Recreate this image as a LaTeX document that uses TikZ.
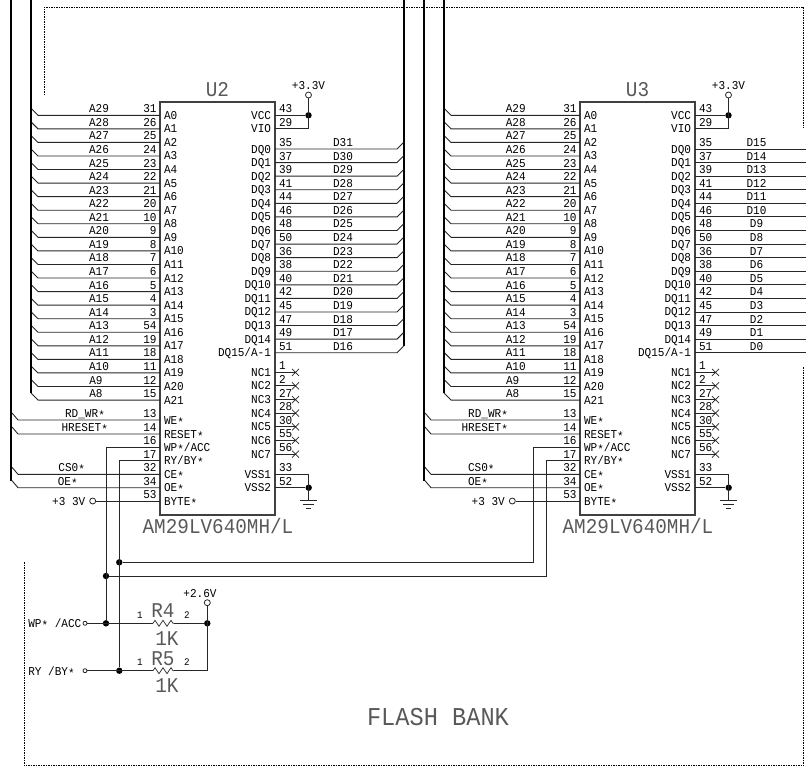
\documentclass[tikz,border=0pt]{standalone}
\usepackage{fontspec}
\newfontfamily\cad[FakeStretch=0.92]{Liberation Mono}
\newcommand\st{\raisebox{-2pt}{*}}
\tikzset{
  txt/.style={font=\cad\fontsize{12}{12}\selectfont,inner sep=0pt,outer sep=0pt,text height=8pt,text depth=0pt},
  tiny/.style={font=\cad\fontsize{10}{10}\selectfont,inner sep=0pt,outer sep=0pt,text height=7pt,text depth=0pt},
  bigtxt/.style={font=\cad\fontsize{21}{21}\selectfont,text=black!65,inner sep=0pt,outer sep=0pt,text height=14pt,text depth=0pt},
  hugetxt/.style={font=\cad\fontsize{25.7}{26}\selectfont,text=black!65,inner sep=0pt,outer sep=0pt,text height=16pt,text depth=0pt},
  wire/.style={line width=.9pt,black!85},
  bus/.style={line width=2.6pt,black},
  frame/.style={line width=.8pt,black,dash pattern=on 1.5pt off 1pt},
  chipbox/.style={draw=black!75,line width=1.1pt,inner sep=0pt,minimum width=115pt,minimum height=413pt},
  jdot/.style={circle,fill=black,inner sep=0pt,minimum size=6.4pt},
  opnc/.style={circle,draw=black!85,fill=white,line width=.8pt,inner sep=0pt,minimum size=6pt},
  termc/.style={circle,draw=black!85,fill=white,line width=.8pt,inner sep=0pt,minimum size=4pt},
}
% id, chip x offset, address bus x, control bus x, A-label centre x, refdes
\newcommand\flashchip[6]{
  \node[chipbox] (#1) at (#2+217.5,308.5) {};
  \node[bigtxt] (#1-ref) at (#2+217.5,89) {#6};
  \node[bigtxt] (#1-type) at (#2+218,526.5) {AM29LV640MH/L};
  % address pins
  \foreach \num [count=\k from 0] in {31,26,25,24,23,22,21,20,10,9,8,7,6,5,4,3,54,19,18,11,12,15}{
    \pgfmathsetmacro\yy{115.3+13.56*\k}
    \pgfmathtruncatemacro\sig{29-\k}
    \pgfmathsetmacro\lx{#5-(\k>=20)*3}
    \coordinate (#1-a\k) at (#2+160,\yy);
    \coordinate (#1-as\k) at (#3+7,\yy);
    \coordinate (#1-ab\k) at (#3,\yy-7);
    \draw[wire] (#1-a\k) -- (#1-as\k) -- (#1-ab\k);
    \node[txt,anchor=east] (#1-an\k) at (#2+156.5,\yy-6.5) {\num};
    \node[txt,anchor=west] (#1-ap\k) at (#2+164,\yy) {A\k};
    \node[txt] (#1-al\k) at (\lx,\yy-6.5) {A\sig};
  }
  % control pin labels
  \foreach \tag/\nm/\num/\yy in {we/WE\st/13/420,rs/RESET\st/14/434,wp/WP\st{}\slash ACC/16/447.3,ry/RY\slash BY\st/17/460.7,ce/CE\st/32/474.3,oe/OE\st/34/487.7,by/BYTE\st/53/501}{
    \coordinate (#1-\tag) at (#2+160,\yy);
    \node[txt,anchor=west] (#1-\tag p) at (#2+164,\yy) {\nm};
    \node[txt,anchor=east] (#1-\tag n) at (#2+156.5,\yy-6.5) {\num};
  }
  % control wires to the bus
  \foreach \tag/\yy in {we/420,rs/434,ce/474.3,oe/487.7}{
    \coordinate (#1-\tag s) at (#4+7,\yy);
    \coordinate (#1-\tag b) at (#4+1,\yy-7);
    \draw[wire] (#1-\tag) -- (#1-\tag s) -- (#1-\tag b);
  }
  % buses
  \coordinate (#1-abt) at (#3,0);
  \coordinate (#1-abe) at (#3,392.5);
  \coordinate (#1-cbt) at (#4,0);
  \coordinate (#1-cbe) at (#4,481);
  \draw[bus] (#1-abt) -- (#1-abe);
  \draw[bus] (#1-cbt) -- (#1-cbe);
  % power
  \node[opnc] (#1-vo) at (#2+308.5,95) {};
  \node[txt] (#1-vl) at (#2+308.5,85) {+3.3V};
  \node[jdot] (#1-vj) at (#2+308.5,115.3) {};
  \coordinate (#1-vcc) at (#2+275,115.3);
  \coordinate (#1-vio) at (#2+275,128.9);
  \coordinate (#1-vc) at (#2+308.5,128.9);
  \draw[wire] (#1-vo) -- (#1-vc) -- (#1-vio);
  \draw[wire] (#1-vcc) -- (#1-vj);
  \node[txt,anchor=east] (#1-vccp) at (#2+271,115.3) {VCC};
  \node[txt,anchor=east] (#1-viop) at (#2+271,128.9) {VIO};
  \node[txt,anchor=west] (#1-vccn) at (#2+279,108.8) {43};
  \node[txt,anchor=west] (#1-vion) at (#2+279,122.4) {29};
  % data pin labels
  \foreach \num [count=\k from 0] in {35,37,39,41,44,46,48,50,36,38,40,42,45,47,49,51}{
    \pgfmathsetmacro\yy{149+13.58*\k}
    \coordinate (#1-d\k) at (#2+275,\yy);
    \node[txt,anchor=west] (#1-dn\k) at (#2+279,\yy-6.5) {\num};
    \ifnum\k<15
      \node[txt,anchor=east] (#1-dp\k) at (#2+271,\yy) {DQ\k};
    \else
      \node[txt,anchor=east] (#1-dp\k) at (#2+271,\yy) {DQ15\slash A-1};
    \fi
  }
  % no-connect pins
  \foreach \num [count=\k from 1] in {1,2,27,28,30,55,56}{
    \pgfmathsetmacro\yy{372.3+13.63*(\k-1)}
    \coordinate (#1-nc\k) at (#2+275,\yy);
    \coordinate (#1-ne\k) at (#2+295.5,\yy);
    \draw[wire] (#1-nc\k) -- (#1-ne\k);
    \draw[wire,line width=.7pt] (#2+292,\yy-3.5) -- (#2+299,\yy+3.5) (#2+292,\yy+3.5) -- (#2+299,\yy-3.5);
    \node[txt,anchor=east] (#1-ncp\k) at (#2+271,\yy) {NC\k};
    \node[txt,anchor=west] (#1-ncn\k) at (#2+279,\yy-6.5) {\num};
  }
  % ground
  \coordinate (#1-vs1) at (#2+275,474.3);
  \coordinate (#1-vs2) at (#2+275,487.7);
  \coordinate (#1-gc) at (#2+308.7,474.3);
  \coordinate (#1-g) at (#2+308.7,500.7);
  \node[jdot] (#1-gj) at (#2+308.7,487.7) {};
  \draw[wire] (#1-vs1) -- (#1-gc) -- (#1-g);
  \draw[wire] (#1-vs2) -- (#1-gj);
  \draw[wire] (#2+300.2,500.7) -- (#2+317.2,500.7);
  \draw[wire] (#2+303.2,504.2) -- (#2+314.2,504.2);
  \draw[wire] (#2+306.2,508) -- (#2+311.2,508);
  \node[txt,anchor=east] (#1-vs1p) at (#2+271,474.3) {VSS1};
  \node[txt,anchor=east] (#1-vs2p) at (#2+271,487.7) {VSS2};
  \node[txt,anchor=west] (#1-vs1n) at (#2+279,467.8) {33};
  \node[txt,anchor=west] (#1-vs2n) at (#2+279,481.2) {52};
}
\begin{document}
\begin{tikzpicture}[x=1pt,y=-1pt]
\useasboundingbox (0,0) rectangle (806,769);
% dashed frames
\draw[frame] (44,95) -- (44,7) -- (803.5,7) -- (803.5,128);
\draw[frame] (24,562) -- (24,765.5) -- (803.5,765.5) -- (803.5,366);

\flashchip{ua}{0}{31}{11}{99}{U2}
\flashchip{ub}{420}{444}{424}{515.7}{U3}

% data wires
\draw[bus,line width=2.2pt] (404,0) -- (404,346);
\foreach \k in {0,...,15}{
  \pgfmathsetmacro\yy{149+13.58*\k}
  \pgfmathtruncatemacro\sa{31-\k}
  \pgfmathtruncatemacro\sb{15-\k}
  \coordinate (ua-ds\k) at (397,\yy);
  \coordinate (ua-db\k) at (403.5,\yy-6.5);
  \coordinate (ub-de\k) at (806,\yy);
  \draw[wire] (ua-d\k) -- (ua-ds\k) -- (ua-db\k);
  \draw[wire] (ub-d\k) -- (ub-de\k);
  \node[txt] (ua-dl\k) at (343,\yy-6.5) {D\sa};
  \node[txt] (ub-dl\k) at (756.5,\yy-6.5) {D\sb};
}

% control labels U2
\node[txt] (la-rd) at (85,413.5) {RD\_WR\st};
\node[txt] (la-hr) at (84.7,427.5) {HRESET\st};
\node[txt] (la-cs) at (71.7,467.8) {CS0\st};
\node[txt] (la-oe) at (67.8,481.2) {OE\st};
\node[opnc] (la-bc) at (92.7,501) {};
\node[txt] (la-bl) at (68.7,501) {+3 3V};
\draw[wire] (la-bc) -- (ua-by);
% control labels U3
\node[txt] (lb-rd) at (488,413.5) {RD\_WR\st};
\node[txt] (lb-hr) at (484.7,427.5) {HRESET\st};
\node[txt] (lb-cs) at (481.3,467.8) {CS0\st};
\node[txt] (lb-oe) at (478,481.2) {OE\st};
\node[opnc] (lb-bc) at (512.3,501) {};
\node[txt] (lb-bl) at (488.3,501) {+3 3V};
\draw[wire] (lb-bc) -- (ub-by);

% lower network
\node[jdot] (j1) at (119.3,562.3) {};
\node[jdot] (j2) at (106,576) {};
\node[jdot] (j3) at (106,623.3) {};
\node[jdot] (j4) at (119.3,670.7) {};
\node[jdot] (j5) at (207.3,623.3) {};
\coordinate (c1) at (106,447.3);
\coordinate (c2) at (119.3,460.7);
\coordinate (c3) at (533.3,562.3);
\coordinate (c4) at (533.3,447.3);
\coordinate (c5) at (546.7,576);
\coordinate (c6) at (546.7,460.7);
\coordinate (c7) at (207.3,670.7);
\draw[wire] (ua-wp) -- (c1) -- (j3);
\draw[wire] (ua-ry) -- (c2) -- (j4);
\draw[wire] (j1) -- (c3) -- (c4) -- (ub-wp);
\draw[wire] (j2) -- (c5) -- (c6) -- (ub-ry);
\node[termc] (t1) at (85,623.3) {};
\node[termc] (t2) at (85,670.7) {};
\coordinate (r4a) at (153,623.3);
\coordinate (r4b) at (174,623.3);
\coordinate (r5a) at (153,670.7);
\coordinate (r5b) at (174,670.7);
\draw[wire] (t1) -- (r4a);
\draw[wire] (r4b) -- (j5);
\draw[wire] (t2) -- (r5a);
\draw[wire] (r5b) -- (c7);
\draw[wire,line width=.7pt] (r4a) -- ++(2,-3) -- ++(4,6) -- ++(4,-6) -- ++(4,6) -- ++(4,-6) -- ++(2,3) -- (r4b);
\draw[wire,line width=.7pt] (r5a) -- ++(2,-3) -- ++(4,6) -- ++(4,-6) -- ++(4,6) -- ++(4,-6) -- ++(2,3) -- (r5b);
\node[opnc] (v26) at (207.3,602.7) {};
\draw[wire] (v26) -- (c7);
\node[txt] (v26l) at (200,593) {+2.6V};
\node[txt,anchor=west] (wpl) at (28.3,623.3) {WP\st{} \slash ACC};
\node[txt,anchor=west] (ryl) at (28.3,671) {RY \slash BY\st};
\node[tiny] (r4p1) at (140,615) {1};
\node[tiny] (r4p2) at (187,615) {2};
\node[tiny] (r5p1) at (140,662) {1};
\node[tiny] (r5p2) at (187,662) {2};
\node[bigtxt] (r4r) at (163,610) {R4};
\node[bigtxt] (r4v) at (167,638) {1K};
\node[bigtxt] (r5r) at (163,658) {R5};
\node[bigtxt] (r5v) at (167,685.7) {1K};
\node[hugetxt] (bank) at (438,717) {FLASH BANK};
\end{tikzpicture}
\end{document}
